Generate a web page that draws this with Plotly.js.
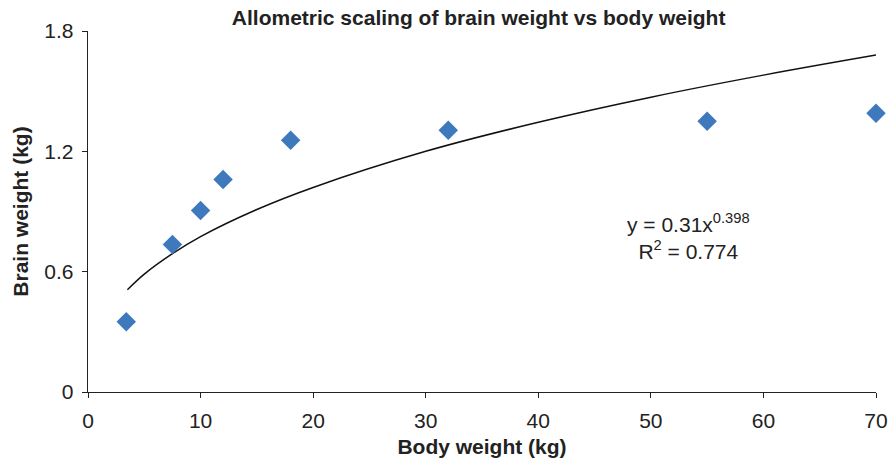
<!DOCTYPE html>
<html>
<head>
<meta charset="utf-8">
<script src="https://cdn.plot.ly/plotly-3.0.1.min.js"></script>
<style>html,body{margin:0;padding:0;background:#fff}#chart{width:893px;height:459px}</style>
</head>
<body>
<div id="chart"></div>
<script>
// Observed data points (body weight kg, brain weight kg)
var bodyWeight = [3.4, 7.5, 10, 12, 18, 32, 55, 70];
var brainWeight = [0.35, 0.735, 0.905, 1.06, 1.255, 1.305, 1.35, 1.39];

// Power trendline
var trendX = [3.5, 5, 7.5, 10, 15, 20, 30, 40, 50, 60, 70];
var trendY = [0.51, 0.588, 0.69, 0.775, 0.91, 1.02, 1.20, 1.345, 1.47, 1.58, 1.68];

var xTicks = [0, 10, 20, 30, 40, 50, 60, 70];
var yTicks = [0, 0.6, 1.2, 1.8];
var yTickText = ['0', '0.6', '1.2', '1.8'];

var font = 'Liberation Sans, Arial, sans-serif';

var traces = [
  {x: trendX, y: trendY, mode: 'lines', type: 'scatter',
   line: {color: '#111', width: 1.5, shape: 'spline'}, hoverinfo: 'skip'},
  {x: bodyWeight, y: brainWeight, mode: 'markers', type: 'scatter', cliponaxis: false,
   marker: {symbol: 'diamond', size: 15, color: '#3f79bd', line: {width: 0}}}
];

var layout = {
  width: 893, height: 459,
  margin: {l: 88, r: 17, t: 31, b: 67},
  paper_bgcolor: '#fff', plot_bgcolor: '#fff',
  showlegend: false,
  font: {family: font, color: '#222', size: 21},
  title: {text: '<b>Allometric scaling of brain weight vs body weight</b>',
          font: {family: font, size: 21, color: '#222'},
          x: 0.536, xanchor: 'center', y: 0.962, yanchor: 'middle'},
  xaxis: {range: [0, 70], tickvals: xTicks, ticks: 'outside', ticklen: 5,
          tickcolor: '#222', showline: true, linecolor: '#222', linewidth: 1.3,
          showgrid: false, zeroline: false, tickfont: {size: 21}, ticklabelstandoff: 4,
          title: {text: '<b>Body weight (kg)</b>', font: {size: 21}, standoff: 8}},
  yaxis: {range: [0, 1.8], tickvals: yTicks, ticktext: yTickText, ticks: 'outside', ticklen: 5,
          tickcolor: '#222', showline: true, linecolor: '#222', linewidth: 1.3,
          showgrid: false, zeroline: false, tickfont: {size: 21}, ticklabelstandoff: 4,
          title: {text: '<b>Brain weight (kg)</b>', font: {size: 21}, standoff: 10}},
  annotations: [
    {x: 0.762, y: 0.43, xref: 'paper', yref: 'paper', xanchor: 'center', yanchor: 'middle',
     showarrow: false, align: 'center',
     text: 'y = 0.31x<sup style="font-size:13px">0.398</sup><br>R<sup style="font-size:13px">2</sup> = 0.774',
     font: {size: 21, color: '#222'}}
  ]
};

Plotly.newPlot('chart', traces, layout, {displayModeBar: false, staticPlot: true});
</script>
</body>
</html>
